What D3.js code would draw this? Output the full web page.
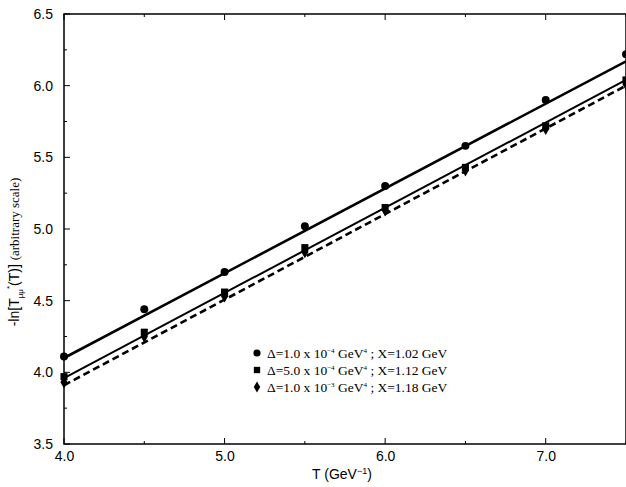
<!DOCTYPE html>
<html>
<head>
<meta charset="utf-8">
<script src="https://cdn.jsdelivr.net/npm/d3@7"></script>
<style>
  body { margin: 0; background: #fff; }
  svg { display: block; }
  .tick text { font-family: "Liberation Sans", Arial, sans-serif; font-size: 14px; }
</style>
</head>
<body>
<svg id="chart"></svg>
<script>
// data
let tValues = [4.0, 4.5, 5.0, 5.5, 6.0, 6.5, 7.0, 7.5];
let circleVals = [4.11, 4.44, 4.70, 5.02, 5.30, 5.58, 5.90, 6.22];
let squareVals = [3.97, 4.28, 4.56, 4.87, 5.15, 5.43, 5.72, 6.04];
let diamondVals = [3.93, 4.25, 4.53, 4.84, 5.13, 5.41, 5.70, 6.01];

// fitted straight lines (end points)
let fitT = [4.0, 7.5];
let circleFit = [4.10, 6.17];
let squareFit = [3.96, 6.04];
let diamondFit = [3.91, 6.00];

let xTicks = [4.0, 5.0, 6.0, 7.0];
let yTicks = [3.5, 4.0, 4.5, 5.0, 5.5, 6.0, 6.5];

let legendRows = [
  {sym: 'circle', a: '1.0', e: '−4', x: '1.02'},
  {sym: 'square', a: '5.0', e: '−4', x: '1.12'},
  {sym: 'diamond', a: '1.0', e: '−3', x: '1.18'}
];

let w = 626;
let h = 487;
let padL = 64, padR = 626, padT = 14, padB = 444;

let svg = d3.select('#chart').attr('width', w).attr('height', h);

let xScale = d3.scaleLinear().domain([4.0, 7.5]).range([padL, padR]);
let yScale = d3.scaleLinear().domain([3.5, 6.5]).range([padB, padT]);

// frame
svg.append('rect')
  .attr('x', padL).attr('y', padT)
  .attr('width', padR - padL).attr('height', padB - padT)
  .attr('fill', 'none').attr('stroke', '#000').attr('stroke-width', 1.5);

// axes with inward ticks
let xMinor = d3.range(4.0, 7.51, 0.5);
let yMinor = d3.range(3.5, 6.51, 0.25);

let xAxis = d3.axisBottom(xScale).tickValues(xTicks).tickFormat(d3.format('.1f'))
  .tickSize(0).tickPadding(7);
svg.append('g').attr('transform', 'translate(0,' + padB + ')').call(xAxis)
  .call(g => g.select('.domain').remove());

let yAxis = d3.axisLeft(yScale).tickValues(yTicks).tickFormat(d3.format('.1f'))
  .tickSize(0).tickPadding(11);
svg.append('g').attr('transform', 'translate(' + padL + ',0)').call(yAxis)
  .call(g => g.select('.domain').remove());

let ticks = svg.append('g').attr('stroke', '#000').attr('stroke-width', 1);
xMinor.forEach(v => {
  let len = Math.abs(v - Math.round(v)) < 1e-6 ? 6 : 3;
  ticks.append('line').attr('x1', xScale(v)).attr('x2', xScale(v))
    .attr('y1', padB).attr('y2', padB - len);
  ticks.append('line').attr('x1', xScale(v)).attr('x2', xScale(v))
    .attr('y1', padT).attr('y2', padT + len);
});
yMinor.forEach(v => {
  let len = Math.abs(v * 2 - Math.round(v * 2)) < 1e-6 ? 6 : 3;
  ticks.append('line').attr('x1', padL).attr('x2', padL + len)
    .attr('y1', yScale(v)).attr('y2', yScale(v));
});

// fitted lines
let line = d3.line().x(d => xScale(d[0])).y(d => yScale(d[1]));
let fits = [
  {vals: circleFit, width: 2.6, dash: null},
  {vals: squareFit, width: 2, dash: null},
  {vals: diamondFit, width: 2.6, dash: '7,4'}
];
fits.forEach(f => {
  svg.append('path')
    .datum(fitT.map((t, i) => [t, f.vals[i]]))
    .attr('d', line)
    .attr('fill', 'none').attr('stroke', '#000')
    .attr('stroke-width', f.width)
    .attr('stroke-dasharray', f.dash);
});

// points
let symbols = {circle: d3.symbolCircle, square: d3.symbolSquare, diamond: d3.symbolDiamond};
let sizes = {circle: 50, square: 50, diamond: 45};
let series = [
  {sym: 'circle', vals: circleVals},
  {sym: 'square', vals: squareVals},
  {sym: 'diamond', vals: diamondVals}
];
series.forEach(s => {
  svg.append('g').selectAll('path')
    .data(tValues.map((t, i) => [t, s.vals[i]]))
    .enter().append('path')
    .attr('d', d3.symbol().type(symbols[s.sym]).size(sizes[s.sym]))
    .attr('transform', d => 'translate(' + xScale(d[0]) + ',' + yScale(d[1]) + ')')
    .attr('fill', '#000');
});

// legend
let leg = svg.append('g').attr('transform', 'translate(257,353)');
legendRows.forEach((r, i) => {
  let y = i * 17;
  leg.append('path')
    .attr('d', d3.symbol().type(symbols[r.sym]).size(sizes[r.sym] * 0.8))
    .attr('transform', 'translate(0,' + y + ')').attr('fill', '#000');
  let t = leg.append('text').attr('x', 10).attr('y', y + 5)
    .attr('font-family', '"Liberation Serif", "Times New Roman", serif')
    .attr('font-size', 13.5);
  t.append('tspan').text('Δ=' + r.a + ' x 10');
  t.append('tspan').attr('dy', -5).attr('font-size', 7).text(r.e);
  t.append('tspan').attr('dy', 5).text(' GeV');
  t.append('tspan').attr('dy', -5).attr('font-size', 7).text('4');
  t.append('tspan').attr('dy', 5).text(' ; X=' + r.x + ' GeV');
});

// axis titles
let xt = svg.append('text').attr('x', 342).attr('y', 479).attr('text-anchor', 'middle')
  .attr('font-family', '"Liberation Sans", Arial, sans-serif').attr('font-size', 14);
xt.append('tspan').text('T (GeV');
xt.append('tspan').attr('dy', -5).attr('font-size', 9).text('−1');
xt.append('tspan').attr('dy', 5).text(')');

let yt = svg.append('text')
  .attr('transform', 'translate(19,252) rotate(-90)')
  .attr('text-anchor', 'middle').attr('font-size', 14)
  .attr('font-family', '"Liberation Sans", Arial, sans-serif');
yt.append('tspan').text('-ln[T');
yt.append('tspan').attr('dy', 4).attr('font-size', 8).text('μμ');
yt.append('tspan').attr('dy', -11).attr('font-size', 8).text('*');
yt.append('tspan').attr('dy', 7).text('(T)] ');
yt.append('tspan').attr('font-family', '"Liberation Serif", "Times New Roman", serif')
  .attr('font-size', 13).text('(arbitrary scale)');
</script>
</body>
</html>
